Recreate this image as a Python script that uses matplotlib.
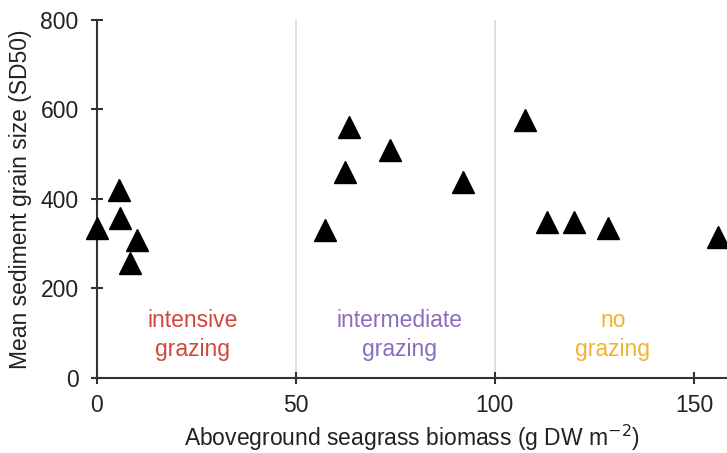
#!/usr/bin/env python3
import matplotlib
matplotlib.use("Agg")
import matplotlib.pyplot as plt

# grazing groups: aboveground biomass (g DW m-2) vs SD50
intensive_x = [0, 5.5, 5.8, 10, 8.3]
intensive_y = [335, 420, 358, 309, 257]
intermediate_x = [63.3, 73.6, 62.3, 92, 57.3]
intermediate_y = [561, 510, 461, 438, 331]
none_x = [107.5, 113, 120, 128.4, 156]
none_y = [577, 349, 349, 335, 315]

zone_edges = [50, 100]
zone_labels = ["intensive\ngrazing", "intermediate\ngrazing", "no\ngrazing"]
zone_label_x = [24, 76, 129.6]
zone_colors = ["#d4463c", "#8a6cc0", "#f2b233"]


def main():
    plt.rcParams['font.family'] = ['Liberation Sans', 'DejaVu Sans']
    fig = plt.figure(figsize=(7.27, 4.53), dpi=100)
    ax = fig.add_axes([0.133, 0.166, 0.867, 0.79])

    for e in zone_edges:
        ax.axvline(e, color="#d9d9d9", lw=1.2, zorder=0)

    xs = intensive_x + intermediate_x + none_x
    ys = intensive_y + intermediate_y + none_y
    ax.plot(xs, ys, ls="none", marker="^", ms=16, color="black",
            clip_on=False, zorder=3)

    for lab, x, c in zip(zone_labels, zone_label_x, zone_colors):
        ax.text(x, 96, lab, color=c, fontsize=16.5, ha="center", va="center",
                linespacing=1.35)

    ax.set_xlim(0, 158.3)
    ax.set_ylim(0, 800)
    ax.set_xticks([0, 50, 100, 150])
    ax.set_yticks([0, 200, 400, 600, 800])
    for s in ["top", "right"]:
        ax.spines[s].set_visible(False)
    for s in ["left", "bottom"]:
        ax.spines[s].set_linewidth(1.5)
        ax.spines[s].set_color("#333333")
    ax.tick_params(direction="inout", length=8, width=1.5, labelsize=16.5,
                   color="#333333", labelcolor="#222222")
    ax.tick_params(axis="x", pad=8)
    ax.tick_params(axis="y", pad=9)
    ax.set_xlabel("Aboveground seagrass biomass (g DW m$^{-2}$)",
                  fontsize=16.5, labelpad=4, color="#222222")
    ax.set_ylabel("Mean sediment grain size (SD50)", fontsize=16.5,
                  labelpad=6, color="#222222")

    fig.savefig("out.png", dpi=100)


if __name__ == "__main__":
    main()
